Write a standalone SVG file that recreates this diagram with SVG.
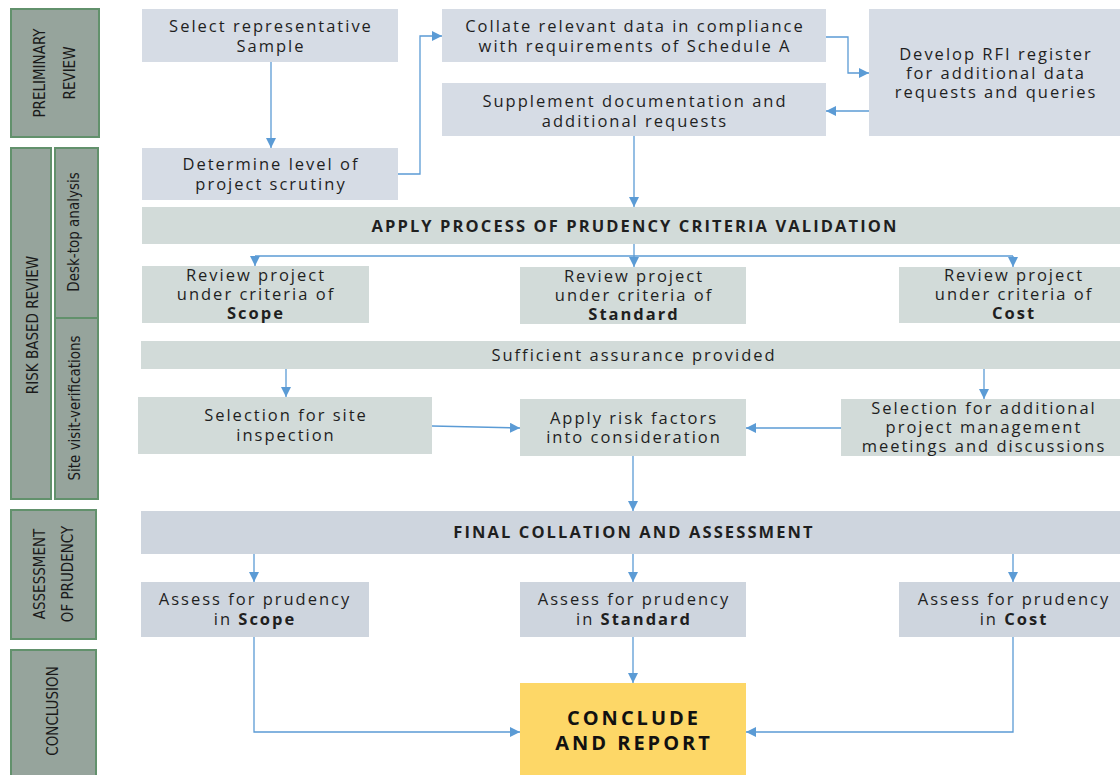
<svg xmlns="http://www.w3.org/2000/svg" width="1120" height="775" viewBox="0 0 1120 775">
<style>
.lab{fill:#96a49c;stroke:#62916c;stroke-width:2}
.lt{font-family:"Liberation Sans Narrow","DejaVu Sans Condensed","Liberation Sans",sans-serif;font-size:15px;fill:#1a1a1a;text-anchor:middle}
.b1{fill:#d6dce5}
.b2{fill:#d2dbd9}
.b3{fill:#ced5de}
.y{fill:#fdd767}
.t{font-family:"Open Sans","DejaVu Sans",sans-serif;font-size:16.5px;fill:#1f1f1f;text-anchor:middle;letter-spacing:2px}
.bd{font-weight:bold}
.hb{font-weight:bold;letter-spacing:2.1px}
.ct{font-family:"Open Sans","DejaVu Sans",sans-serif;font-size:20px;font-weight:bold;fill:#111;text-anchor:middle;letter-spacing:3px}
.c{fill:none;stroke:#5b9bd5;stroke-width:1.3}
</style>
<defs>
<marker id="a" viewBox="0 0 10 10" refX="10" refY="5" markerWidth="10" markerHeight="10" markerUnits="userSpaceOnUse" orient="auto">
<path d="M0,0 L10,5 L0,10 Z" fill="#5b9bd5"/>
</marker>
</defs>

<g id="lane-preliminary">
<rect class="lab" x="11" y="9" width="88" height="128"/>
<text class="lt" transform="translate(45,73) rotate(-90)">PRELIMINARY</text>
<text class="lt" transform="translate(75,73) rotate(-90)">REVIEW</text>
</g>
<g id="lane-risk">
<rect class="lab" x="11" y="148" width="40" height="351"/>
<text class="lt" transform="translate(38,325) rotate(-90)">RISK BASED REVIEW</text>
</g>
<g id="lane-desktop">
<rect class="lab" x="55" y="148" width="43" height="170"/>
<text class="lt" transform="translate(79,232) rotate(-90)">Desk-top analysis</text>
</g>
<g id="lane-site">
<rect class="lab" x="55" y="318" width="43" height="181"/>
<text class="lt" transform="translate(80,408) rotate(-90)">Site visit-verifications</text>
</g>
<g id="lane-assessment">
<rect class="lab" x="11" y="510" width="85" height="129"/>
<text class="lt" transform="translate(45,574) rotate(-90)">ASSESSMENT</text>
<text class="lt" transform="translate(73,574) rotate(-90)">OF PRUDENCY</text>
</g>
<g id="lane-conclusion">
<rect class="lab" x="11" y="650" width="85" height="130"/>
<text class="lt" transform="translate(58,711) rotate(-90)">CONCLUSION</text>
</g>

<g id="connectors">
<line class="c" x1="271" y1="62" x2="271" y2="148" marker-end="url(#a)"/>
<polyline class="c" points="398,174 420,174 420,36 442,36" marker-end="url(#a)"/>
<polyline class="c" points="826,37 848,37 848,73 869,73" marker-end="url(#a)"/>
<line class="c" x1="869" y1="111" x2="826" y2="111" marker-end="url(#a)"/>
<line class="c" x1="634" y1="136" x2="634" y2="207" marker-end="url(#a)"/>
<line class="c" x1="634" y1="244" x2="634" y2="267" marker-end="url(#a)"/>
<polyline class="c" points="1013,256 255,256"/>
<line class="c" x1="255" y1="256" x2="255" y2="266" marker-end="url(#a)"/>
<line class="c" x1="1013" y1="256" x2="1013" y2="267" marker-end="url(#a)"/>
<line class="c" x1="286" y1="369" x2="286" y2="397" marker-end="url(#a)"/>
<line class="c" x1="984" y1="369" x2="984" y2="399" marker-end="url(#a)"/>
<line class="c" x1="432" y1="426" x2="520" y2="428" marker-end="url(#a)"/>
<line class="c" x1="841" y1="428" x2="746" y2="428" marker-end="url(#a)"/>
<line class="c" x1="633" y1="456" x2="633" y2="511" marker-end="url(#a)"/>
<line class="c" x1="254" y1="554" x2="254" y2="582" marker-end="url(#a)"/>
<line class="c" x1="633" y1="554" x2="633" y2="582" marker-end="url(#a)"/>
<line class="c" x1="1013" y1="554" x2="1013" y2="582" marker-end="url(#a)"/>
<polyline class="c" points="254,637 254,732 520,732" marker-end="url(#a)"/>
<line class="c" x1="633" y1="637" x2="633" y2="683" marker-end="url(#a)"/>
<polyline class="c" points="1013,637 1013,732 746,732" marker-end="url(#a)"/>
</g>

<g id="select-sample">
<rect class="b1" x="142" y="9" width="256" height="53"/>
<text class="t" x="271" y="32">Select representative</text>
<text class="t" x="271" y="52">Sample</text>
</g>
<g id="determine-level">
<rect class="b1" x="142" y="148" width="256" height="52"/>
<text class="t" x="271" y="170">Determine level of</text>
<text class="t" x="271" y="190">project scrutiny</text>
</g>
<g id="collate-data">
<rect class="b1" x="442" y="9" width="384" height="53"/>
<text class="t" x="635" y="32">Collate relevant data in compliance</text>
<text class="t" x="635" y="52">with requirements of Schedule A</text>
</g>
<g id="supplement">
<rect class="b1" x="442" y="83" width="384" height="53"/>
<text class="t" x="635" y="107">Supplement documentation and</text>
<text class="t" x="635" y="127">additional requests</text>
</g>
<g id="rfi-register">
<rect class="b1" x="869" y="9" width="251" height="127"/>
<text class="t" x="996" y="60">Develop RFI register</text>
<text class="t" x="996" y="79">for additional data</text>
<text class="t" x="996" y="98">requests and queries</text>
</g>
<g id="apply-process">
<rect class="b2" x="142" y="207" width="978" height="37"/>
<text class="t hb" x="635" y="232">APPLY PROCESS OF PRUDENCY CRITERIA VALIDATION</text>
</g>
<g id="review-scope">
<rect class="b2" x="142" y="266" width="227" height="57"/>
<text class="t" x="256" y="281">Review  project</text>
<text class="t" x="256" y="300">under criteria of</text>
<text class="t bd" x="256" y="319">Scope</text>
</g>
<g id="review-standard">
<rect class="b2" x="520" y="267" width="226" height="57"/>
<text class="t" x="634" y="282">Review  project</text>
<text class="t" x="634" y="301">under criteria of</text>
<text class="t bd" x="634" y="320">Standard</text>
</g>
<g id="review-cost">
<rect class="b2" x="899" y="267" width="221" height="56"/>
<text class="t" x="1014" y="281">Review  project</text>
<text class="t" x="1014" y="300">under criteria of</text>
<text class="t bd" x="1014" y="319">Cost</text>
</g>
<g id="sufficient-assurance">
<rect class="b2" x="141" y="341" width="979" height="28"/>
<text class="t" x="634" y="361">Sufficient assurance provided</text>
</g>
<g id="site-inspection">
<rect class="b2" x="138" y="397" width="294" height="57"/>
<text class="t" x="286" y="421">Selection for site</text>
<text class="t" x="286" y="441">inspection</text>
</g>
<g id="apply-risk">
<rect class="b2" x="520" y="399" width="226" height="57"/>
<text class="t" x="634" y="424">Apply risk factors</text>
<text class="t" x="634" y="443">into consideration</text>
</g>
<g id="additional-meetings">
<rect class="b2" x="841" y="399" width="279" height="57"/>
<text class="t" x="984" y="414">Selection for additional</text>
<text class="t" x="984" y="433">project management</text>
<text class="t" x="984" y="452">meetings and discussions</text>
</g>
<g id="final-collation">
<rect class="b3" x="141" y="511" width="979" height="43"/>
<text class="t hb" x="634" y="538">FINAL COLLATION AND ASSESSMENT</text>
</g>
<g id="assess-scope">
<rect class="b3" x="141" y="582" width="228" height="55"/>
<text class="t" x="255" y="605">Assess for prudency</text>
<text class="t" x="255" y="625">in <tspan class="bd">Scope</tspan></text>
</g>
<g id="assess-standard">
<rect class="b3" x="520" y="582" width="226" height="55"/>
<text class="t" x="634" y="605">Assess for prudency</text>
<text class="t" x="634" y="625">in <tspan class="bd">Standard</tspan></text>
</g>
<g id="assess-cost">
<rect class="b3" x="899" y="582" width="221" height="55"/>
<text class="t" x="1014" y="605">Assess for prudency</text>
<text class="t" x="1014" y="625">in <tspan class="bd">Cost</tspan></text>
</g>
<g id="conclude">
<rect class="y" x="520" y="683" width="226" height="92"/>
<text class="ct" x="634" y="725">CONCLUDE</text>
<text class="ct" x="634" y="750">AND REPORT</text>
</g>
</svg>
